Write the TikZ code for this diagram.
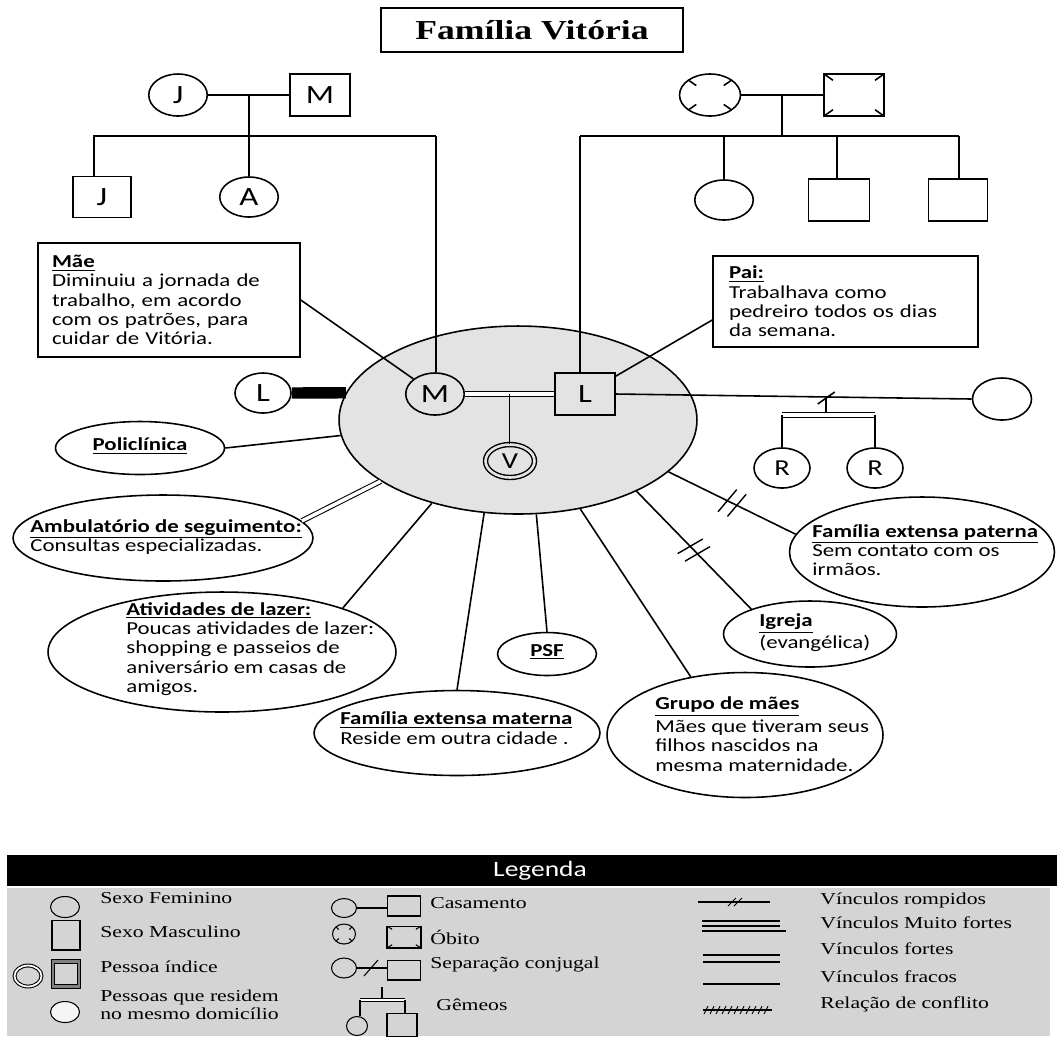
\documentclass[tikz,border=0pt]{standalone}
\usepackage{fontspec}
\setmainfont{Carlito}[FakeStretch=1.25]
\newfontfamily\romana{Liberation Serif}[FakeStretch=1.3]
\usetikzlibrary{shapes.geometric,calc,decorations.markings}

\newcommand{\cabec}[1]{\underline{\textbf{#1}}}

\tikzset{
  fraco/.style={line width=0.9pt},
  forte/.style={double, double distance=2pt, line width=0.6pt},
  rompido/.style={fraco, decoration={markings, mark=at position 0.5 with {\draw[line width=0.8pt] (-5pt,-8pt) -- (-1pt,8pt) (1pt,-8pt) -- (5pt,8pt);}}, postaction={decorate}},
  pessoa/.style={draw, line width=0.9pt, inner sep=0pt, font=\fontsize{15}{15}\selectfont},
  fem/.style={pessoa, ellipse, minimum width=1.17cm, minimum height=0.84cm},
  masc/.style={pessoa, rectangle, minimum width=1.2cm, minimum height=0.85cm},
  obitoF/.style={path picture={
    \foreach \c in {north east,north west,south east,south west}
      \draw ($(path picture bounding box.\c)!0.3!(path picture bounding box.center)$) -- ($(path picture bounding box.\c)!0.55!(path picture bounding box.center)$);}},
  obitoM/.style={path picture={
    \foreach \c in {north east,north west,south east,south west}
      \draw (path picture bounding box.\c) -- ($(path picture bounding box.\c)!0.3!(path picture bounding box.center)$);}},
  nota/.style={draw, line width=0.9pt, align=left, inner xsep=0.28cm, font=\fontsize{10.4}{11}\selectfont},
  sistema/.style={draw, ellipse, fraco, inner sep=0pt},
  texto/.style={align=left, anchor=west, inner sep=0pt, font=\fontsize{10.4}{11}\selectfont},
  leg/.style={font=\romana\fontsize{9.5}{10.2}\selectfont, anchor=west, inner sep=0pt, align=left},
  lsimb/.style={draw, line width=0.6pt, inner sep=0pt},
}

\begin{document}
\begin{tikzpicture}[x=0.02cm, y=-0.02cm]
\useasboundingbox (0,0) rectangle (1057,1036);

% Titulo
\node[draw, line width=1pt, minimum width=6.04cm, minimum height=0.88cm,
      font=\romana\bfseries\fontsize{15.6}{15.6}\selectfont] (titulo) at (532,30) {Família Vitória};

% Familia materna
\node[fem] (avoJ) at (178,95) {J};
\node[masc] (avoM) at (320,95) {M};
\draw[fraco] (avoJ) -- (avoM);
\coordinate (descE) at (249,95);
\coordinate (irmE1) at (94,136);
\coordinate (irmE2) at (436,136);
\node[masc, minimum width=1.16cm, minimum height=0.82cm] (tioJ) at (102,197) {J};
\node[fem, minimum height=0.8cm] (tiaA) at (249,197) {A};
\draw[fraco] (descE) -- (tiaA);
\draw[fraco] (tioJ.north -| irmE1) -- (irmE1) -- (irmE2);

% Familia paterna
\node[fem, obitoF, minimum width=1.22cm] (avoF) at (710,95) {};
\node[masc, obitoM, minimum height=0.84cm] (avoP) at (854,95) {};
\draw[fraco] (avoF) -- (avoP);
\coordinate (descD) at (782,95);
\coordinate (irmD1) at (580,136);
\coordinate (irmD2) at (959,136);
\draw[fraco] (descD) -- (descD |- irmD1);
\draw[fraco] (irmD1) -- (irmD2);
\node[fem, minimum height=0.8cm] (tiaP) at (724,200) {};
\node[masc, minimum width=1.22cm, minimum height=0.84cm] (tioP1) at (839,200) {};
\node[masc, minimum width=1.18cm, minimum height=0.84cm] (tioP2) at (958,200) {};
\draw[fraco] (tiaP.north -| tiaP) -- (tiaP |- irmD1);
\draw[fraco] (tioP1.north -| 837,0) -- (837,136);
\draw[fraco] (tioP2.north -| irmD2) -- (irmD2);

% Casa
\node[sistema, fill=black!11, minimum width=7.16cm, minimum height=3.76cm] (lar) at (518,420) {};
\node[fem] (mae) at (435,394) {M};
\node[masc, minimum height=0.84cm] (pai) at (585,394) {L};
\draw[fraco] (irmE2) -- (irmE2 |- mae.north);
\draw[fraco] (irmD1) -- (irmD1 |- pai.north);
\draw[forte] (mae) -- (pai);
\coordinate (uniao) at ($(mae.east)!0.5!(pai.west)$);
\node[pessoa, ellipse, double=black!11, double distance=1.5pt, line width=0.8pt,
      minimum width=0.98cm, minimum height=0.66cm, font=\fontsize{13}{13}\selectfont] (vit) at (510,461) {V};
\draw[fraco] (uniao) -- (uniao |- vit.north);

% Notas
\node[nota, text width=4.68cm, minimum height=2.28cm] (notaMae) at (169,300)
  {\cabec{Mãe}\\Diminuiu a jornada de\\trabalho, em acordo\\com os patrões, para\\cuidar de Vitória.};
\node[nota, inner xsep=0.32cm, text width=4.66cm, minimum height=1.82cm] (notaPai) at (845.5,301.5)
  {\cabec{Pai:}\\Trabalhava como\\pedreiro todos os dias\\da semana.};
\draw[fraco] (notaMae.east) -- (mae);
\draw[fraco] ($(notaPai.south west)!0.3!(notaPai.north west)$) -- (pai);

% Segunda uniao do pai
\node[fem, minimum width=1.18cm] (ex) at (1002,399) {};
\draw[fraco] (pai.east) -- (ex.west);
\coordinate (sep) at ($(pai.east)!0.59!(ex.west)$);
\draw[fraco] ([shift={(-8,7)}]sep) -- ([shift={(9,-5)}]sep);
\coordinate (gem1) at (782,415);
\coordinate (gem2) at (875,415);
\draw[fraco] (sep) -- (sep |- gem1);
\draw[forte] (gem1) -- (gem2);
\node[fem, minimum width=1.12cm, minimum height=0.8cm, font=\fontsize{13}{13}\selectfont] (irR1) at (782,468) {R};
\node[fem, minimum width=1.12cm, minimum height=0.8cm, font=\fontsize{13}{13}\selectfont] (irR2) at (875,468) {R};
\draw[fraco] (gem1) -- (irR1);
\draw[fraco] (gem2) -- (irR2);

% L fora de casa
\node[fem, minimum width=1.12cm, minimum height=0.8cm] (ligL) at (263,393) {L};
\draw[line width=6.5pt] (ligL.east) -- (lar.171.5);

% Rede de apoio
\node[sistema, minimum width=3.38cm, minimum height=1.06cm] (poli) at (140,448) {};
\node[texto, anchor=center] (poliT) at (140,446) {\cabec{Policlínica}};
\node[sistema, minimum width=6cm, minimum height=1.72cm] (amb) at (163,538) {};
\node[texto] (ambT) at (30,537) {\cabec{Ambulatório de seguimento:}\\Consultas especializadas.};
\node[sistema, minimum width=6.96cm, minimum height=2.4cm] (ativ) at (222,652) {};
\node[texto] (ativT) at (126,649) {\cabec{Atividades de lazer:}\\Poucas atividades de lazer:\\shopping e passeios de\\aniversário em casas de\\amigos.};
\node[sistema, minimum width=5.72cm, minimum height=1.7cm] (mat) at (457,733) {};
\node[texto] (matT) at (340,728) {\cabec{Família extensa materna}\\Reside em outra cidade .};
\node[sistema, minimum width=1.98cm, minimum height=0.86cm] (psf) at (547,654) {};
\node[texto, anchor=center] (psfT) at (547,652) {\cabec{PSF}};
\node[sistema, minimum width=5.52cm, minimum height=2.5cm] (grupo) at (745,735) {};
\node[texto] (grupoT) at (655,734) {\cabec{Grupo de mães}\\[2pt]Mães que tiveram seus\\filhos nascidos na\\mesma maternidade.};
\node[sistema, minimum width=3.46cm, minimum height=1.32cm] (igreja) at (810,634) {};
\node[texto] (igrejaT) at (759,633) {\cabec{Igreja}\\(evangélica)};
\node[sistema, minimum width=5.3cm, minimum height=2.2cm] (pat) at (922,552) {};
\node[texto] (patT) at (812,550) {\cabec{Família extensa paterna}\\Sem contato com os\\irmãos.};

\draw[fraco] (lar.185) -- (poli.east);
\draw[forte] (lar.204) -- (amb.7);
\draw[fraco] (lar.224) -- (ativ.20);
\draw[fraco] (lar.250) -- (mat.north);
\draw[fraco] (lar.281.5) -- (psf.north);
\draw[fraco] (lar.305) -- (grupo.133);
\draw[rompido] (lar.329.5) -- (igreja.157);
\draw[rompido] (lar.341) -- (pat.172);

% Legenda
\fill[black] (7,855) rectangle (1057,886);
\fill[black!17] (7,888) rectangle (1050,1036);
\node[font=\fontsize{12.5}{13}\selectfont, text=white] (legTit) at (540,871) {Legenda};

\node[lsimb, ellipse, minimum width=0.58cm, minimum height=0.42cm] (lFem) at (65,907) {};
\node[lsimb, minimum width=0.56cm, minimum height=0.6cm] (lMasc) at (66,935) {};
\node[lsimb, ellipse, double, double distance=1pt, minimum width=0.54cm, minimum height=0.42cm] (lIndF) at (28,976) {};
\node[lsimb, double=gray, double distance=1.5pt, minimum width=0.52cm, minimum height=0.5cm] (lIndM) at (66,974) {};
\node[lsimb, ellipse, fill=black!4, minimum width=0.58cm, minimum height=0.42cm] (lDom) at (65,1012) {};
\node[leg] (tFem) at (100,898) {Sexo Feminino};
\node[leg] (tMasc) at (100,932) {Sexo Masculino};
\node[leg] (tInd) at (100,967) {Pessoa índice};
\node[leg] (tDom) at (100,1005) {Pessoas que residem\\no mesmo domicílio};

\node[lsimb, ellipse, minimum width=0.5cm, minimum height=0.38cm] (lCasF) at (344,908) {};
\node[lsimb, minimum width=0.66cm, minimum height=0.4cm] (lCasM) at (404,906) {};
\draw[line width=0.6pt] (lCasF.east) -- (lCasF.east -| lCasM.west);
\node[lsimb, ellipse, obitoF, minimum width=0.46cm, minimum height=0.4cm] (lObF) at (344,934) {};
\node[lsimb, obitoM, minimum width=0.68cm, minimum height=0.44cm] (lObM) at (404,937) {};
\node[lsimb, ellipse, minimum width=0.5cm, minimum height=0.4cm] (lSepF) at (344,968) {};
\node[lsimb, minimum width=0.66cm, minimum height=0.4cm] (lSepM) at (404,970) {};
\draw[line width=0.6pt] (lSepF.east) -- (lSepF.east -| lSepM.west);
\draw[line width=0.6pt] (364,976) -- (378,960);
\coordinate (lGem) at (382,987);
\coordinate (lGem1) at (360,1000);
\coordinate (lGem2) at (405,1000);
\node[lsimb, ellipse, minimum width=0.42cm, minimum height=0.38cm] (lGemF) at (357,1026) {};
\node[lsimb, minimum width=0.6cm, minimum height=0.46cm] (lGemM) at (402,1025) {};
\draw[line width=0.6pt] (lGem) -- (lGem |- lGem1);
\draw[line width=0.5pt, double, double distance=1pt] (lGem1) -- (lGem2);
\draw[line width=0.6pt] (lGem1) -- (lGem1 |- lGemF.north);
\draw[line width=0.6pt] (lGem2) -- (lGem2 |- lGemM.north);
\node[leg] (tCas) at (430,903) {Casamento};
\node[leg] (tOb) at (430,937) {Óbito};
\node[leg] (tSep) at (430,964) {Separação conjugal};
\node[leg] (tGem) at (436,1005) {Gêmeos};

\coordinate (vR1) at (698,902);
\coordinate (vR2) at (770,902);
\draw[line width=0.6pt] (vR1) -- (vR2);
\draw[line width=0.5pt] (728,906) -- (736,898) (734,906) -- (742,898);
\draw[line width=0.7pt] (702,921) -- (780,921) (702,926) -- (780,926) (702,931) -- (786,931);
\draw[line width=0.8pt] (703,955) -- (780,955) (703,962) -- (780,962);
\draw[line width=1pt] (703,984) -- (780,984);
\draw[line width=0.6pt] (703,1010) -- (772,1010);
\foreach \x in {706,712,...,768}
  \draw[line width=0.5pt] (\x-2,1014) -- (\x+2,1006);
\node[leg] (tRomp) at (820,900) {Vínculos rompidos};
\node[leg] (tMF) at (820,923) {Vínculos Muito fortes};
\node[leg] (tFor) at (820,949) {Vínculos fortes};
\node[leg] (tFra) at (820,977) {Vínculos fracos};
\node[leg] (tConf) at (820,1004) {Relação de conflito};
\end{tikzpicture}
\end{document}
